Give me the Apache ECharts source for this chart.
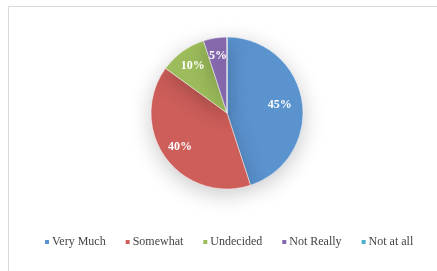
<!DOCTYPE html>
<html>
<head>
<meta charset="utf-8">
<script src="https://cdn.jsdelivr.net/npm/echarts@6/dist/echarts.min.js"></script>
<style>
  html, body { margin: 0; padding: 0; background: #fff; }
  #app { width: 437px; height: 271px; }
</style>
</head>
<body>
<div id="app"></div>
<script>
const categories = ['Very Much', 'Somewhat', 'Undecided', 'Not Really', 'Not at all']
const values = [45, 40, 10, 5, 0]
const colors = ['#5b93cf', '#cd5e5a', '#9dbd5c', '#8669ad', '#4cb0cb']

const cx = 227, cy = 113

const chart = echarts.init(document.getElementById('app'), null, { renderer: 'canvas' })

chart.setOption({
  animation: false,
  color: colors,
  graphic: [{
    type: 'rect',
    shape: { x: 8.5, y: 6.5, width: 440, height: 280 },
    style: { fill: 'none', stroke: '#d9d9d9', lineWidth: 1 },
    silent: true
  }],
  legend: {
    left: 38,
    top: 231,
    itemWidth: 6,
    itemHeight: 6,
    itemGap: 18,
    icon: 'rect',
    textStyle: { fontFamily: 'Liberation Serif', fontSize: 12, color: '#444', padding: [0, 0, 0, -3] },
    data: categories
  },
  series: [{
    type: 'pie',
    center: [cx, cy],
    radius: 76,
    startAngle: 90,
    clockwise: true,
    avoidLabelOverlap: false,
    stillShowZeroSum: true,
    itemStyle: {
      borderColor: '#fff',
      borderWidth: 0.5,
      shadowColor: 'rgba(0,0,0,0.22)',
      shadowBlur: 22,
      shadowOffsetY: 5
    },
    label: {
      position: 'inside',
      formatter: p => p.value > 0 ? p.value + '%' : '',
      color: '#fff',
      fontFamily: 'Liberation Serif',
      fontWeight: 'bold',
      fontSize: 12
    },
    labelLayout: function (p) {
      const r = p.labelRect
      const lx = r.x + r.width / 2, ly = r.y + r.height / 2
      const k = p.dataIndex === 0 ? 1.3 : 1.42
      return {
        x: cx + (lx - cx) * k,
        y: cy + (ly - cy) * k,
        align: 'center',
        verticalAlign: 'middle',
        hideOverlap: false
      }
    },
    labelLine: { show: false },
    data: categories.map((c, i) => ({ name: c, value: values[i] }))
  }]
})
</script>
</body>
</html>
